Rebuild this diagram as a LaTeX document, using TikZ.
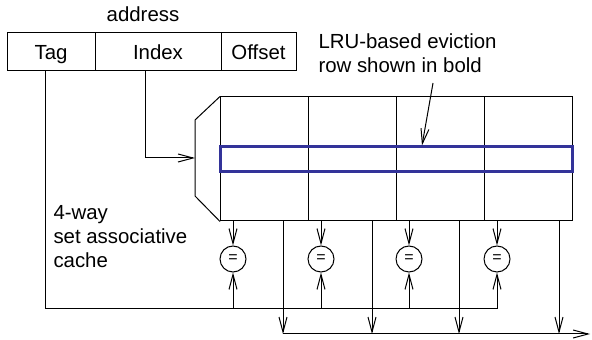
\documentclass[tikz,border=0pt]{standalone}
\usepackage{fontspec}
\setmainfont{Liberation Sans}
\usetikzlibrary{arrows.meta}
\definecolor{lrublue}{RGB}{51,51,153}
\begin{document}
\begin{tikzpicture}[x=0.5pt, y=-0.5pt, font=\fontsize{10.2}{12}\selectfont,
    line width=0.5pt,
    arr/.style={-{Straight Barb[length=7.5pt,width=4pt]}},
    field/.style={draw, minimum height=19pt, inner sep=0pt, text height=7.4pt, text depth=0pt},
    way/.style={draw, minimum width=44pt, minimum height=62pt, inner sep=0pt},
    cmp/.style={draw, circle, minimum size=13pt, inner sep=0pt, font=\fontsize{8}{8}\selectfont}]
  % \draw[help lines, gray!50, very thin] (0,0) grid[step=20] (592,340);
  \useasboundingbox (0,0) rectangle (592,340);

  % address fields
  \node (addr) at (143,14) {address};
  \node[field, minimum width=44pt] (tag) at (51,52) {Tag};
  \node[field, minimum width=63pt] (index) at (158,52) {Index};
  \node[field, minimum width=37.5pt] (offset) at (258.5,52) {Offset};

  % cache ways
  \foreach \i/\x in {1/264.5, 2/352, 3/440, 4/528}
    \node[way] (way\i) at (\x,159) {};

  % decoder
  \draw (way1.north west) -- (195,120) -- (195,196) -- (way1.south west);
  \coordinate (dec) at (195,158);
  \draw[arr] ([xshift=-6.5pt]index.south) |- (dec);

  % LRU row
  \node[draw=lrublue, line width=1.5pt, minimum width=176pt, minimum height=12.5pt, inner sep=0pt] (lru) at (396,159.5) {};
  \node[align=left, anchor=west, inner sep=0pt] (lrutext) at (318,53) {LRU-based eviction\\row shown in bold};
  \coordinate (note) at (433,83);
  \draw[arr] (note) -- ([xshift=13pt]lru.north);

  \node[align=left, anchor=west, inner sep=0pt] (cachetext) at (53,237) {4-way\\ set associative\\cache};

  % comparators
  \foreach \i/\x in {1/233, 2/321, 3/409, 4/497} {
    \node[cmp] (cmp\i) at (\x,259) {=};
    \draw[arr] (cmp\i |- way\i.south) -- (cmp\i.north);
  }

  % tag line
  \coordinate (tagbus) at (45,309);
  \draw[arr] ([xshift=-3pt]tag.south) -- (tagbus) -| (cmp4.south);
  \foreach \i in {1,2,3}
    \draw[arr] (cmp\i |- tagbus) -- (cmp\i.south);

  % data lines
  \coordinate (databus) at (283,334);
  \foreach \i/\dx in {1/9.25, 2/10, 3/9.5, 4/15.5}
    \draw[arr] ([xshift=\dx pt]way\i.south) -- ([xshift=\dx pt]way\i.south |- databus);
  \draw[arr] (databus) -- (590,334);
\end{tikzpicture}
\end{document}
